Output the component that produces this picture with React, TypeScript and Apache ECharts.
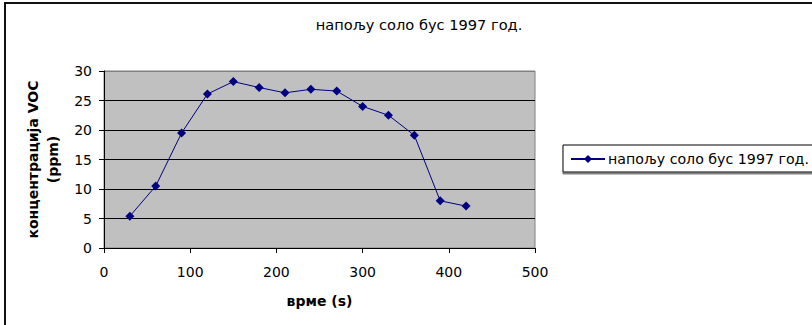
import React, { useEffect, useRef } from "react";
import * as echarts from "echarts";

const chartTitle = "напољу соло бус 1997 год.";
const seriesName = "напољу соло бус 1997 год.";
const xAxisName = "врме (s)";
const yAxisName = "концентрација VOC\n(ppm)";
const timeValues = [30, 60, 90, 120, 150, 180, 210, 240, 270, 300, 330, 360, 390, 420];
const vocValues = [5.4, 10.5, 19.5, 26.1, 28.2, 27.2, 26.3, 26.9, 26.6, 24.0, 22.5, 19.1, 8.0, 7.1];

const FONT = "DejaVu Sans";

export default function App() {
  const ref = useRef<HTMLDivElement>(null);
  useEffect(() => {
    if (!ref.current) return;
    const chart = echarts.init(ref.current, null, { renderer: "svg" });
    const data = timeValues.map((t, i) => [t, vocValues[i]]);
    chart.setOption({
      animation: false,
      backgroundColor: "#ffffff",
      textStyle: { fontFamily: FONT },
      title: {
        text: chartTitle,
        left: 414,
        textAlign: "center",
        top: 12,
        textStyle: { fontFamily: FONT, fontSize: 14.6, fontWeight: "normal", color: "#000" },
      },
      graphic: [
        {
          type: "rect",
          shape: { x: 5, y: 3, width: 900, height: 400 },
          style: { fill: "none", stroke: "#111", lineWidth: 2 },
          silent: true,
          z: 100,
        },
      ],
      legend: {
        left: 563,
        top: 145,
        orient: "vertical",
        padding: [7, 30, 6, 7],
        itemWidth: 34,
        itemHeight: 10,
        itemGap: 4,
        borderColor: "#000",
        borderWidth: 1,
        backgroundColor: "#fff",
        shadowColor: "#808080",
        shadowOffsetX: 0,
        shadowOffsetY: 2,
        textStyle: { fontFamily: FONT, fontSize: 14.2, color: "#000", padding: [0, 0, 0, -2] },
        data: [seriesName],
      },
      grid: {
        left: 104,
        right: 277,
        top: 71,
        bottom: 77,
        show: true,
        backgroundColor: "#C0C0C0",
        borderColor: "#808080",
        borderWidth: 1,
      },
      xAxis: {
        type: "value",
        min: 0,
        max: 500,
        interval: 100,
        name: xAxisName,
        nameLocation: "middle",
        nameGap: 46,
        nameTextStyle: { fontFamily: FONT, fontSize: 14, fontWeight: "bold", color: "#000" },
        axisLine: { show: true, lineStyle: { color: "#000", width: 1 } },
        axisTick: { show: true, inside: false, length: 5, lineStyle: { color: "#000" } },
        axisLabel: { margin: 17, fontFamily: FONT, fontSize: 14, color: "#000" },
        splitLine: { show: false },
      },
      yAxis: {
        type: "value",
        min: 0,
        max: 30,
        interval: 5,
        name: yAxisName,
        nameLocation: "middle",
        nameRotate: 90,
        nameGap: 38,
        nameTextStyle: { fontFamily: FONT, fontSize: 14, fontWeight: "bold", color: "#000", lineHeight: 20 },
        axisLine: { show: true, lineStyle: { color: "#000", width: 1 } },
        axisTick: { show: true, inside: false, length: 5, lineStyle: { color: "#000" } },
        axisLabel: { margin: 12, fontFamily: FONT, fontSize: 14, color: "#000" },
        splitLine: {
          show: true,
          lineStyle: { color: ["#000", "#000", "#000", "#000", "#000", "#000", "#808080"], width: 1 },
        },
      },
      series: [
        {
          name: seriesName,
          type: "line",
          data,
          color: "#000080",
          lineStyle: { color: "#000080", width: 1 },
          itemStyle: { color: "#000080" },
          symbol: "diamond",
          symbolSize: 9,
          showSymbol: true,
        },
      ],
    });
    return () => chart.dispose();
  }, []);
  return (
    <div
      ref={ref}
      style={{ position: "fixed", left: 0, top: 0, width: 812, height: 325 }}
    />
  );
}
